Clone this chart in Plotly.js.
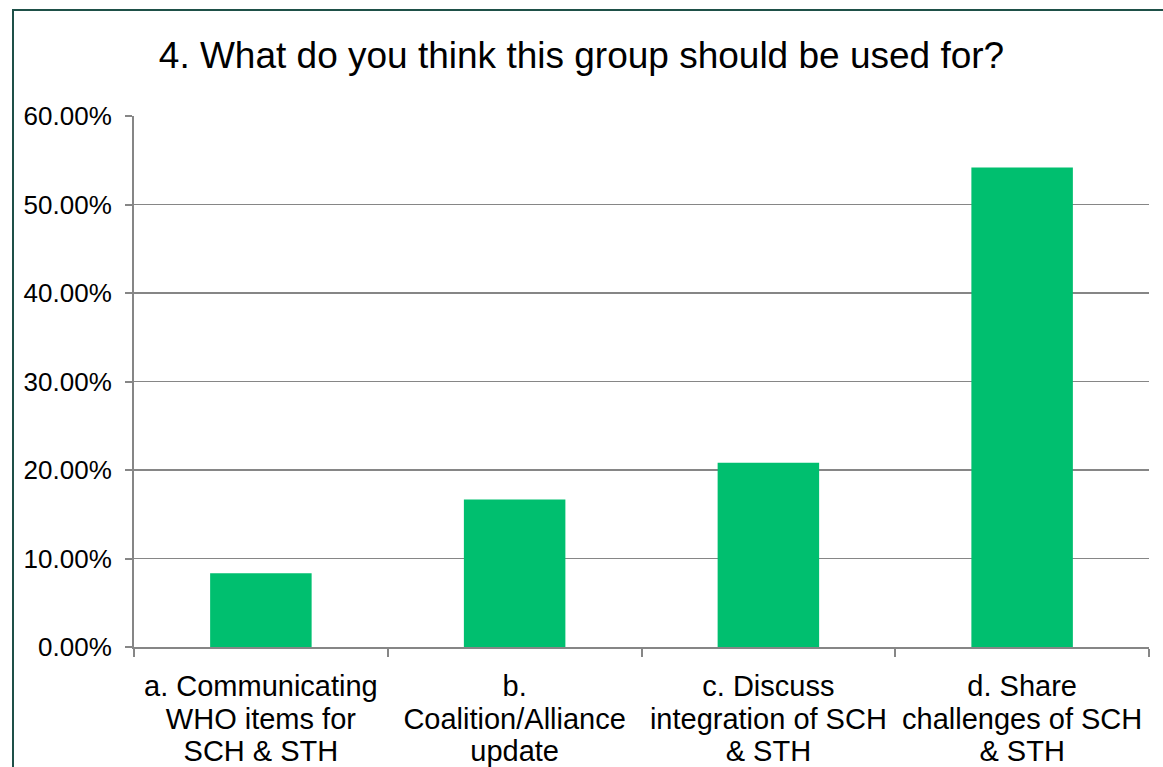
<!DOCTYPE html>
<html>
<head>
<meta charset="utf-8">
<script src="https://cdn.plot.ly/plotly-3.0.1.min.js"></script>
<style>
  html, body { margin: 0; padding: 0; background: #ffffff; }
  #wrap { position: relative; width: 1163px; height: 767px; overflow: hidden; }
  #chart { position: absolute; left: 0; top: 0; width: 1163px; height: 767px; }
  #frame { position: absolute; left: 12px; top: 9px; width: 1200px; height: 800px;
           border-left: 2px solid #1E5048; border-top: 2px solid #1E5048; pointer-events: none; }
</style>
</head>
<body>
<div id="wrap">
  <div id="chart"></div>
  <div id="frame"></div>
</div>
<script>
const titleText = "4. What do you think this group should be used for?";
const categoryLines = [
  ["a. Communicating", "WHO items for", "SCH & STH"],
  ["b.", "Coalition/Alliance", "update"],
  ["c. Discuss", "integration of SCH", "& STH"],
  ["d. Share", "challenges of SCH", "& STH"]
];
const values = [0.0833, 0.1667, 0.2083, 0.5417];
const yTicks = [0, 0.1, 0.2, 0.3, 0.4, 0.5, 0.6];

const font = "Liberation Sans, Arial, sans-serif";
const categories = categoryLines.map(ls => ls.join(" "));
const tickText = categoryLines.map(ls =>
  ls.map(l => '<span style="font-size:29px">' + l + '</span>').join("<br>"));

Plotly.newPlot("chart", [{
  type: "bar",
  x: categories,
  y: values,
  marker: { color: "#00BF6F" },
  hoverinfo: "skip"
}], {
  width: 1163,
  height: 767,
  margin: { l: 134, r: 14, t: 116, b: 120 },
  paper_bgcolor: "#ffffff",
  plot_bgcolor: "#ffffff",
  bargap: 0.6,
  showlegend: false,
  font: { family: font, color: "#000000" },
  title: {
    text: titleText,
    font: { family: font, size: 37, color: "#000000" },
    x: 0.5, xanchor: "center",
    y: 0.928, yanchor: "middle",
    yref: "container"
  },
  xaxis: {
    type: "category",
    tickmode: "array",
    tickvals: categories,
    ticktext: tickText,
    showline: true, linecolor: "#868686", linewidth: 2,
    ticks: "outside", tickson: "boundaries", ticklen: 8, tickcolor: "#868686", tickwidth: 2,
    ticklabelstandoff: 17,
    tickfont: { family: font, size: 25, color: "#000000" },
    showgrid: false, zeroline: false,
    tickangle: 0
  },
  yaxis: {
    range: [0, 0.6],
    tickvals: yTicks,
    tickformat: ".2%",
    showline: true, linecolor: "#868686", linewidth: 2,
    ticks: "outside", ticklen: 7, tickcolor: "#868686", tickwidth: 2,
    ticklabelstandoff: 8,
    showgrid: true, gridcolor: "#868686", gridwidth: 1.5,
    zeroline: false,
    tickfont: { family: font, size: 26, color: "#000000" }
  }
}, { displayModeBar: false, staticPlot: true });
</script>
</body>
</html>
